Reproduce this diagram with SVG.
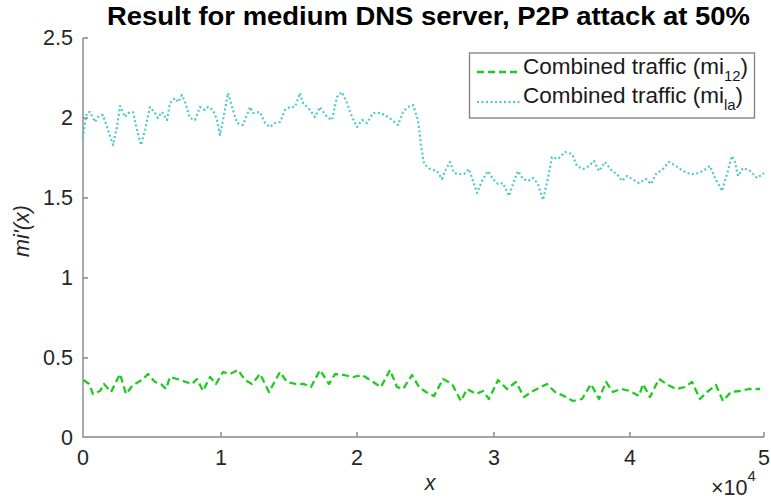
<svg xmlns="http://www.w3.org/2000/svg" width="771" height="502" viewBox="0 0 771 502">
<style>
.ax{stroke:#858585;stroke-width:1.4;fill:none}
.tk{font-family:"Liberation Sans",Arial,sans-serif;font-size:21.5px;fill:#262626}
.lg{font-family:"Liberation Sans",Arial,sans-serif;font-size:22.5px;fill:#1a1a1a}
.sub{font-size:15px}
.g{fill:none;stroke:#1ecb1e;stroke-width:2.3;stroke-dasharray:7 4;stroke-linejoin:round}
.c{fill:none;stroke:#4cc9cf;stroke-width:2.2;stroke-dasharray:2 2.5;stroke-linejoin:round}
</style>
<rect width="771" height="502" fill="#fff"/>
<text x="107" y="25" font-family="Liberation Sans,Arial,sans-serif" font-weight="bold" font-size="26" fill="#000" textLength="643" lengthAdjust="spacingAndGlyphs">Result for medium DNS server, P2P attack at 50%</text>
<g id="axes">
<path class="ax" d="M83,38 V437 H764"/>
<path class="ax" d="M83,38 h5 M83,118 h5 M83,198 h5 M83,278 h5 M83,358 h5 M221,437 v-5 M357,437 v-5 M494,437 v-5 M630,437 v-5 M764,437 v-5"/>
<g class="tk" text-anchor="end">
<text x="73" y="45">2.5</text>
<text x="73" y="125">2</text>
<text x="73" y="205">1.5</text>
<text x="73" y="285">1</text>
<text x="73" y="365">0.5</text>
<text x="73" y="445">0</text>
</g>
<g class="tk" text-anchor="middle">
<text x="83" y="465">0</text>
<text x="221" y="465">1</text>
<text x="357" y="465">2</text>
<text x="494" y="465">3</text>
<text x="630" y="465">4</text>
<text x="764" y="465">5</text>
</g>
<text class="tk" x="711" y="495">×10<tspan font-size="15" dy="-14">4</tspan></text>
<text class="tk" x="430" y="490" text-anchor="middle" font-style="italic" font-size="22">x</text>
<text class="tk" transform="translate(29,231) rotate(-90)" text-anchor="middle" font-style="italic" font-size="23.5">mi'(x)</text>
</g>
<g id="connectors">
<polyline id="mi12" class="g" points="83.5,380 89,384 93,394 100,391 104,384 111,392 120,374 126,394 133,385 142,380 148,374 155,382 161,384 166,389 170,377 177,379 186,382 192,384 197,379 203,391 210,377 216,384 223,372 230,374 238,370 245,380 252,384 260,374 269,392 280,372 287,382 296,384 304,384 311,387 320,370 329,384 335,374 344,375 353,377 362,375 370,380 381,387 390,370 397,387 403,389 412,375 419,387 426,392 434,396 443,379 452,384 461,401 467,389 476,394 483,391 489,399 498,380 507,389 516,382 524,397 533,391 547,384 555,392 564,396 573,401 582,399 591,384 599,399 606,382 613,392 621,389 630,391 639,396 643,384 650,397 659,379 668,385 676,389 685,387 692,382 700,399 707,392 716,385 723,401 731,392 740,391 749,389 760,389"/>
<polyline id="mila" class="c" points="82.7,138 86.7,113 90,112 95,122 98,117 103,115 108,130 113,145 117,127 120,106 125,117 128,113 133,112 137,130 141,145 145,130 150,107 155,113 158,118 162,112 167,120 170,103 175,98 178,102 182,95 185,102 190,118 195,120 200,107 205,110 208,107 213,110 217,120 220,135 223,120 228,93 233,110 237,123 243,125 250,107 253,113 260,112 265,123 270,127 275,123 280,122 285,110 290,107 295,107 300,93 303,103 310,110 315,117 320,107 327,117 332,120 337,97 342,92 347,103 352,117 357,127 362,120 367,123 373,113 380,113 385,115 392,120 398,125 403,112 408,107 413,105 418,120 421,145 424,164 430,169 437,171 442,179 445,171 450,162 454,173 459,174 464,174 469,169 472,178 477,193 482,181 488,171 493,179 498,184 503,183 509,196 514,181 518,171 523,179 528,181 533,178 538,184 543,200 548,178 552,157 558,159 565,152 572,154 577,166 583,169 589,166 594,161 599,171 605,162 612,171 617,174 622,181 627,176 632,179 639,183 646,179 651,184 656,174 663,169 669,162 676,166 683,171 690,174 696,174 703,171 710,166 715,178 722,191 727,174 732,156 735,162 738,176 743,168 750,171 757,178 764,173"/>
</g>
<g id="legend">
<rect x="469.5" y="53" width="285" height="65" fill="#fff" stroke="#858585" stroke-width="1.4"/>
<line class="g" x1="477" y1="72" x2="520" y2="72"/>
<line class="c" x1="477" y1="102" x2="520" y2="102"/>
<text class="lg" x="523" y="74">Combined traffic (mi<tspan class="sub" dy="7">12</tspan><tspan dy="-7">)</tspan></text>
<text class="lg" x="523" y="103">Combined traffic (mi<tspan class="sub" dy="7">la</tspan><tspan dy="-7">)</tspan></text>
</g>
</svg>
